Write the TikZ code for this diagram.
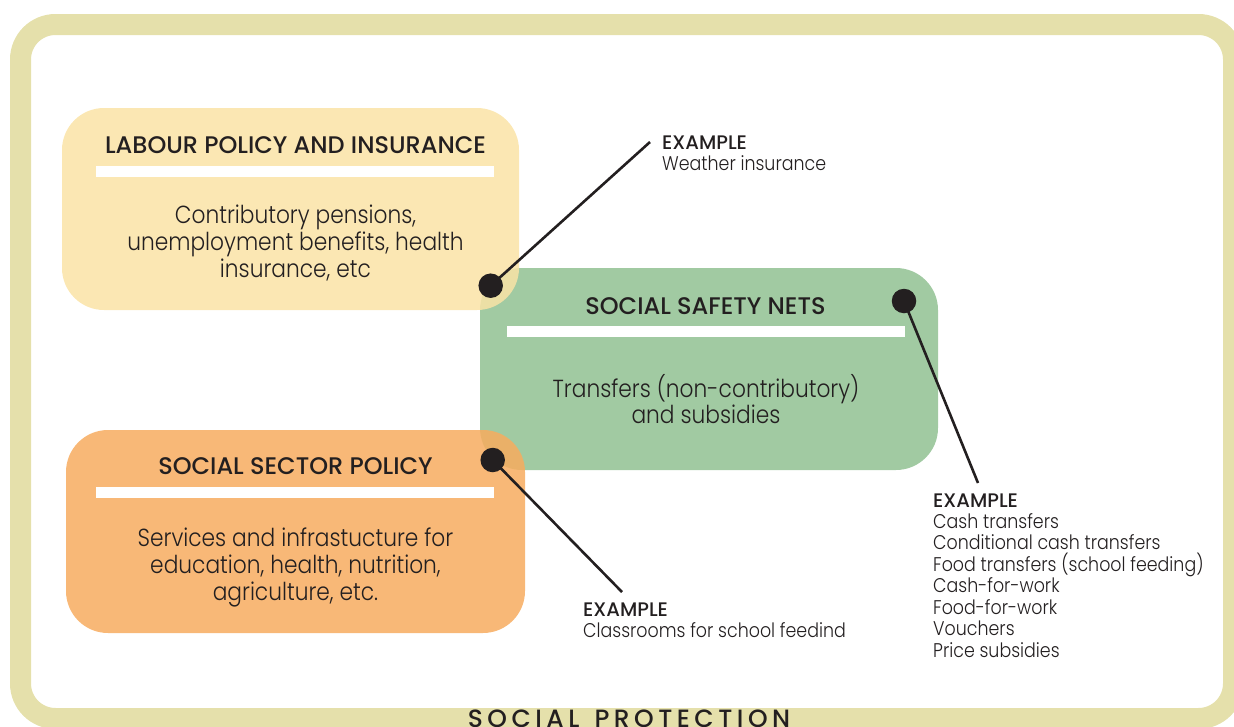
\documentclass[tikz,border=0pt]{standalone}
\usepackage{fontspec}
\setmainfont{Poppins}[FakeStretch=0.88]
\newfontfamily\lightf{Poppins Light}[FakeStretch=0.88]
\newfontfamily\medf{Poppins Medium}
\newfontfamily\spacedf{Poppins Medium}[LetterSpace=18]
\definecolor{framec}{HTML}{E5E0AB}
\definecolor{yellowc}{HTML}{FAE3A6}
\definecolor{greenc}{HTML}{A1CAA2}
\definecolor{orangec}{HTML}{F7AC5F}
\definecolor{darkc}{HTML}{231F20}
\tikzset{
  box/.style={draw=none, inner sep=0pt, outer sep=0pt, rounded corners=42pt, anchor=north west},
  softbox/.style={box, fill opacity=0.85},
  bar/.style={fill=white, draw=none, inner sep=0pt, outer sep=0pt, minimum width=398pt, minimum height=11pt},
  hdr/.style={font=\medf\fontsize{24}{28}\selectfont, text=darkc, inner sep=0pt, anchor=base},
  bodyline/.style={font=\lightf\fontsize{24.7}{27}\selectfont, text=darkc, inner sep=0pt, anchor=base},
  extitle/.style={font=\medf\fontsize{19.6}{21}\selectfont, text=darkc, inner sep=0pt, anchor=base west},
  exline/.style={font=\lightf\fontsize{19.8}{21}\selectfont, text=darkc, inner sep=0pt, anchor=base west},
  dot/.style={circle, fill=darkc, draw=none, minimum size=24.5pt, inner sep=0pt},
  conn/.style={draw=darkc, line width=2.6pt}
}
\begin{document}
\begin{tikzpicture}[x=1pt,y=-1pt]
\useasboundingbox (0,0) rectangle (1234,726);
\clip (0,0) rectangle (1234,726);
% outer frame
\draw[framec, line width=21pt, rounded corners=35pt] (20.5,24.5) rectangle (1233.5,718.5);
\node[font=\spacedf\fontsize{25}{28}\selectfont, text=darkc, inner sep=0pt, anchor=base] (sp) at (629,727.5) {SOCIAL\hspace{4pt} PROTECTION};
% boxes
\node[box, fill=greenc, minimum width=458pt, minimum height=202pt] (nets) at (480,268) {};
\node[softbox, fill=yellowc, minimum width=457pt, minimum height=202pt] (labour) at (62,108) {};
\node[softbox, fill=orangec, minimum width=459pt, minimum height=203pt] (sector) at (66,430) {};
% bars
\node[bar] (labbar) at (295,171.5) {};
\node[bar] (netbar) at (706,331) {};
\node[bar] (secbar) at (295,492.5) {};
% headers
\node[hdr] (labhdr) at (295.5,153) {LABOUR POLICY AND INSURANCE};
\node[hdr] (nethdr) at (705.5,314) {SOCIAL SAFETY NETS};
\node[hdr] (sechdr) at (295.5,474) {SOCIAL SECTOR POLICY};
% bodies
\node[bodyline] (lab1) at (295.5,223) {Contributory pensions,};
\node[bodyline] (lab2) at (295.5,250) {unemployment benefits, health};
\node[bodyline] (lab3) at (295.5,277) {insurance, etc};
\node[bodyline] (net1) at (706,397) {Transfers (non-contributory)};
\node[bodyline] (net2) at (706,423) {and subsidies};
\node[bodyline] (sec1) at (295.5,546) {Services and infrastucture for};
\node[bodyline] (sec2) at (295.5,573) {education, health, nutrition,};
\node[bodyline] (sec3) at (295.5,600) {agriculture, etc.};
% dots and connectors
\node[dot] (labdot) at (490.7,285.7) {};
\node[dot] (netdot) at (904,301) {};
\node[dot] (secdot) at (492.7,460) {};
\coordinate (labend) at (650,142);
\coordinate (netend) at (978,483);
\coordinate (secend) at (622,592);
\draw[conn] (labdot.center) -- (labend);
\draw[conn] (netdot.center) -- (netend);
\draw[conn] (secdot.center) -- (secend);
% examples
\node[extitle] (labex) at (662,149) {EXAMPLE};
\node[exline] (labex1) at (662,170) {Weather insurance};
\node[extitle] (secex) at (583,616) {EXAMPLE};
\node[exline] (secex1) at (583,637) {Classrooms for school feedind};
\node[extitle] (netex) at (933,507) {EXAMPLE};
\foreach \t [count=\i] in {Cash transfers, Conditional cash transfers, Food transfers (school feeding), Cash-for-work, Food-for-work, Vouchers, Price subsidies}{
  \node[exline] (netex\i) at (933,{507+21.45*\i}) {\t};
}
\end{tikzpicture}
\end{document}
